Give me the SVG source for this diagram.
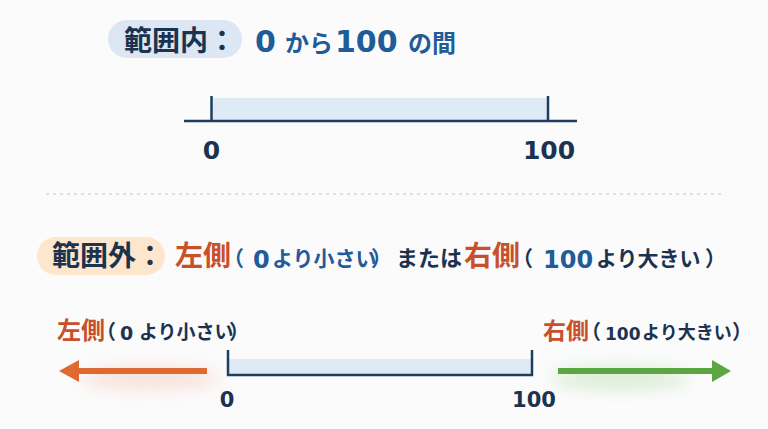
<svg xmlns="http://www.w3.org/2000/svg" width="768" height="429" viewBox="0 0 768 429">
<defs>
<style>
text{font-family:"Noto Sans CJK JP","Noto Sans",sans-serif;font-weight:700}
.d{font-family:"DejaVu Sans","Noto Sans",sans-serif;font-weight:700}
.navy{fill:#1c3350}
.blue{fill:#1f5c99}
.red{fill:#c8502a}
.axis{stroke:#1e3e60;stroke-width:2.5;fill:none}
.band{fill:#deeaf6}
.num{fill:#1c3350;text-anchor:middle;font-family:"DejaVu Sans","Noto Sans",sans-serif}
</style>
<filter id="blur" x="-50%" y="-100%" width="200%" height="300%"><feGaussianBlur stdDeviation="9"/></filter>
</defs>
<rect width="768" height="429" fill="#fbfbfc"/>

<g id="header-inside">
<rect x="108" y="20" width="134" height="38" rx="19" fill="#dce7f3"/>
<text x="124" y="51" font-size="28" class="navy">範囲内：</text>
<text y="52" class="blue"><tspan x="255" font-size="30" class="d">0</tspan><tspan x="285" font-size="24">から</tspan><tspan x="335" font-size="30" class="d">100</tspan><tspan x="408" font-size="24">の間</tspan></text>
</g>

<g id="numberline-inside">
<rect x="212" y="98" width="336" height="23" class="band"/>
<line x1="184" y1="121" x2="577" y2="121" class="axis"/>
<line x1="211.5" y1="96" x2="211.5" y2="121" class="axis"/>
<line x1="548" y1="96" x2="548" y2="121" class="axis"/>
<text x="211.5" y="159" font-size="25" class="num">0</text>
<text x="549" y="159" font-size="25" class="num">100</text>
</g>

<line x1="46" y1="194" x2="725" y2="194" stroke="#d3d9df" stroke-width="1.5" stroke-dasharray="3 4"/>

<g id="header-outside">
<rect x="37" y="237" width="128" height="38" rx="19" fill="#fde6cc"/>
<text x="52" y="266" font-size="28" class="navy">範囲外：</text>
<text y="266"><tspan x="175" font-size="28" class="red">左側</tspan><tspan x="223" font-size="21" class="blue">（</tspan><tspan x="253" y="268" font-size="24" class="blue d">0</tspan><tspan x="272" y="266" font-size="21" class="blue">より小さい</tspan><tspan x="371" font-size="21" class="blue">）</tspan><tspan x="396" font-size="22" class="navy">または</tspan><tspan x="464" font-size="28" class="red">右側</tspan><tspan x="512" font-size="21" class="navy">（</tspan><tspan x="543" y="268" font-size="24" class="blue d">100</tspan><tspan x="596" y="266" font-size="21" class="navy">より大きい</tspan><tspan x="705" font-size="21" class="navy">）</tspan></text>
</g>

<g id="left-side">
<text y="339"><tspan x="57" font-size="24" class="red">左側</tspan><tspan x="96" font-size="20" class="navy">（</tspan><tspan x="120" y="340" font-size="19" class="navy d">0</tspan><tspan x="139" y="339" font-size="19" class="navy">より小さい</tspan><tspan x="229" font-size="20" class="navy">）</tspan></text>
</g>

<g id="right-side">
<text y="339"><tspan x="543" font-size="23" class="red">右側</tspan><tspan x="581" font-size="20" class="navy">（</tspan><tspan x="605" y="340" font-size="17" class="navy d">100</tspan><tspan x="642" y="339" font-size="18" class="navy">より大きい</tspan><tspan x="732" font-size="20" class="navy">）</tspan></text>
</g>

<g id="numberline-outside">
<rect x="229" y="359" width="303" height="16" class="band"/>
<polyline points="228,350 228,375 532,375 532,350" class="axis" stroke-width="2"/>
<text x="227" y="407" font-size="21" class="num">0</text>
<text x="534" y="407" font-size="21" class="num">100</text>
</g>

<g id="connectors">
<g id="arrow-left">
<ellipse cx="150" cy="378" rx="70" ry="10" fill="#f2a58a" opacity="0.35" filter="url(#blur)"/>
<line x1="207" y1="371" x2="76" y2="371" stroke="#de6a32" stroke-width="6"/>
<polygon points="59,371 79,360 79,382" fill="#de6a32"/>
</g>
<g id="arrow-right">
<ellipse cx="620" cy="378" rx="70" ry="10" fill="#9fd08a" opacity="0.4" filter="url(#blur)"/>
<line x1="558" y1="371" x2="714" y2="371" stroke="#5ba640" stroke-width="6"/>
<polygon points="731,371 712,360 712,382" fill="#5ba640"/>
</g>
</g>
</svg>
